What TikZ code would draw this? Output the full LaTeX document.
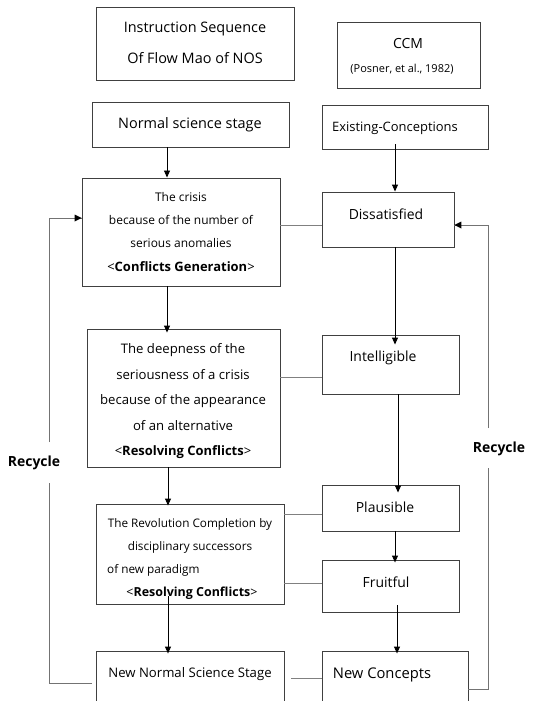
\documentclass[tikz,border=0pt]{standalone}
\usepackage{fontspec}
\setmainfont{Open Sans}
\usetikzlibrary{arrows.meta,calc}
\begin{document}
\begin{tikzpicture}[x=1bp,y=-1bp,
  box/.style={draw=black!75,line width=0.9bp,rectangle,inner sep=0pt,align=center},
  arr/.style={-{Triangle[length=7bp,width=6bp]},line width=0.9bp,draw=black},
  link/.style={draw=black!50,line width=0.9bp},
  rec/.style={draw=black!55,line width=0.9bp},
  lbl/.style={inner sep=0pt,align=center}]
\useasboundingbox (0,0) rectangle (538,701);
\fill[white] (0,0) rectangle (538,701);
% boxes
\node[box,minimum width=198bp,minimum height=73bp] (title) at (195,43.5) {};
\node[lbl,font=\fontsize{14.5}{15}\selectfont] at (195,29) {Instruction Sequence};
\node[lbl,font=\fontsize{14.5}{15}\selectfont] at (195,58) {Of Flow Mao of NOS};

\node[box,minimum width=143bp,minimum height=66bp] (ccm) at (408.5,55) {};
\node[lbl,font=\fontsize{14}{15}\selectfont] at (408,44) {CCM};
\node[lbl,font=\fontsize{11}{12}\selectfont] at (402,69) {(Posner, et al., 1982)};

\node[box,minimum width=197bp,minimum height=45bp] (normal) at (190.5,124.5) {};
\node[lbl,font=\fontsize{14.5}{15}\selectfont] at (190,125) {Normal science stage};

\node[box,minimum width=166bp,minimum height=44bp] (exist) at (405,127) {};
\node[lbl,font=\fontsize{13}{14}\selectfont] at (395,128) {Existing-Conceptions};

\node[box,minimum width=198bp,minimum height=108bp] (crisis) at (181,232) {};
\node[lbl,font=\fontsize{12}{13}\selectfont] at (181,197) {The crisis};
\node[lbl,font=\fontsize{12}{13}\selectfont] at (181,220) {because of the number of};
\node[lbl,font=\fontsize{12}{13}\selectfont] at (181,243) {serious anomalies};
\node[lbl,font=\fontsize{13}{14}\selectfont] at (181,267) {<\textbf{Conflicts Generation}>};

\node[box,minimum width=132bp,minimum height=55bp] (diss) at (388,219.5) {};
\node[lbl,font=\fontsize{14}{15}\selectfont] at (386,214) {Dissatisfied};

\node[box,minimum width=193bp,minimum height=138bp] (deep) at (183.5,398) {};
\node[lbl,font=\fontsize{13.2}{14}\selectfont] at (183,350) {The deepness of the};
\node[lbl,font=\fontsize{13.2}{14}\selectfont] at (183,375) {seriousness of a crisis};
\node[lbl,font=\fontsize{13.2}{14}\selectfont] at (183,401) {because of the appearance};
\node[lbl,font=\fontsize{13.2}{14}\selectfont] at (183,426) {of an alternative};
\node[lbl,font=\fontsize{13}{14}\selectfont] at (183,452) {<\textbf{Resolving Conflicts}>};

\node[box,minimum width=137bp,minimum height=59bp] (intel) at (390.5,364.5) {};
\node[lbl,font=\fontsize{14}{15}\selectfont] at (383,358) {Intelligible};

\node[box,minimum width=137bp,minimum height=46bp] (plaus) at (390.5,508) {};
\node[lbl,font=\fontsize{14}{15}\selectfont] at (385,507) {Plausible};

\node[box,minimum width=188bp,minimum height=100bp] (rev) at (190,554) {};
\node[lbl,font=\fontsize{11.8}{12}\selectfont] at (190,524) {The Revolution Completion by};
\node[lbl,font=\fontsize{11.8}{12}\selectfont] at (190,547) {disciplinary successors};
\node[lbl,font=\fontsize{11.8}{12}\selectfont,anchor=west] at (107,570) {of new paradigm};
\node[lbl,font=\fontsize{12.5}{13}\selectfont] at (192,593) {<\textbf{Resolving Conflicts}>};

\node[box,minimum width=137bp,minimum height=52bp] (fruit) at (390.5,586) {};
\node[lbl,font=\fontsize{14}{15}\selectfont] at (386,582) {Fruitful};

\node[box,minimum width=188bp,minimum height=50bp] (newn) at (190,676) {};
\node[lbl,font=\fontsize{13.2}{14}\selectfont] at (190,674) {New Normal Science Stage};

\node[box,minimum width=146bp,minimum height=50bp] (newc) at (395,676) {};
\node[lbl,font=\fontsize{14.8}{15}\selectfont] at (382,675) {New Concepts};

% arrow columns
\coordinate (L1) at (167,0);
\coordinate (L2) at (168,0);
\coordinate (R1) at (395,0);
\coordinate (R2) at (397,0);
\coordinate (R3) at (398,0);
\draw[arr] (normal.south -| L1) -- (crisis.north -| L1);
\draw[arr] (crisis.south -| L1) -- ([yshift=-4bp]deep.north -| L1);
\draw[arr] (deep.south -| L2) -- ([yshift=-2bp]rev.north -| L2);
\draw[arr] ([yshift=8bp]rev.south -| L2) -- ([yshift=-3bp]newn.north -| L2);
\draw[arr] ([yshift=5bp]exist.south -| R1) -- (diss.north -| R1);
\draw[arr] (diss.south -| R1) -- ([yshift=-10bp]intel.north -| R1);
\draw[arr] (intel.south -| R3) -- ([yshift=-8bp]plaus.north -| R3);
\draw[arr] (plaus.south -| R1) -- ([yshift=-3bp]fruit.north -| R1);
\draw[arr] ([yshift=7bp]fruit.south -| R2) -- ([yshift=-3bp]newc.north -| R2);

% horizontal links
\draw[link] (crisis.east |- 0,225) -- (diss.west |- 0,225);
\draw[link] (deep.east |- 0,377) -- (intel.west |- 0,377);
\draw[link] (rev.east |- 0,514) -- (plaus.west |- 0,514);
\draw[link] (rev.east |- 0,583) -- (fruit.west |- 0,583);
\draw[link] (291,678) -- (newc.west |- 0,678);

% recycle loops
\coordinate (lb) at (49,683);
\coordinate (rb) at (488,689);
\draw[rec] ([xshift=-4bp]newn.west |- lb) -- (lb) -- (49,483);
\draw[rec] (49,442) -- (49,218);
\draw[rec] (49,218) -- (crisis.west |- 0,218);
\fill[black] (crisis.west |- 0,218) -- ++(-7,-3.5) -- ++(0,7) -- cycle;
\node[lbl,font=\bfseries\fontsize{14}{15}\selectfont] (recl) at (34,463) {Recycle};
\draw[rec] (newc.east |- rb) -- (rb) -- (488,468);
\draw[rec] (488,428) -- (488,225);
\draw[rec] (488,225) -- (diss.east |- 0,225);
\fill[black] (diss.east |- 0,225) -- ++(7,-3.5) -- ++(0,7) -- cycle;
\node[lbl,font=\bfseries\fontsize{14}{15}\selectfont] (recr) at (499,449) {Recycle};
\end{tikzpicture}
\end{document}
